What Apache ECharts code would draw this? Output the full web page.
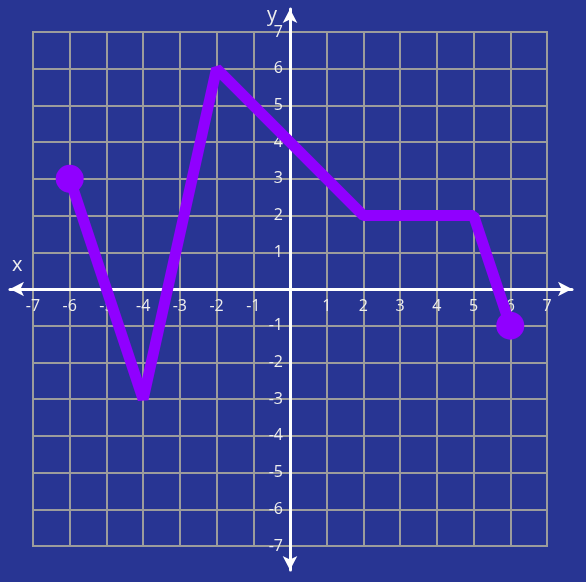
<!DOCTYPE html>
<html>
<head>
<meta charset="utf-8">
<script src="https://cdn.jsdelivr.net/npm/echarts@6/dist/echarts.min.js"></script>
<style>
html,body{margin:0;padding:0;background:#283593;}
#c{width:586px;height:582px;}
</style>
</head>
<body>
<div id="c"></div>
<script>
// Data
const xValues = [-6, -4, -2, 2, 5, 6];
const yValues = [3, -3, 6, 2, 2, -1];
const axisMin = -7;
const axisMax = 7;
const xAxisName = 'x';
const yAxisName = 'y';

const chart = echarts.init(document.getElementById('c'));
const W = 586, H = 582;
const g = {left: 33, right: 39, top: 32, bottom: 36};
const unitX = (W - g.left - g.right) / (axisMax - axisMin);
const unitY = (H - g.top - g.bottom) / (axisMax - axisMin);
// outer arrow-axis grid
const g2 = {left: 10, right: 14, top: 9, bottom: 12};
const zeroX = g.left + (0 - axisMin) * unitX;
const zeroY = g.top + (axisMax - 0) * unitY;
const x2min = -(zeroX - g2.left) / unitX;
const x2max = (W - g2.right - zeroX) / unitX;
const y2max = (zeroY - g2.top) / unitY;
const y2min = -(H - g2.bottom - zeroY) / unitY;
const xOffset = -((H - g.bottom) - zeroY);
const yOffset = -(zeroX - g.left);

const labelFont = {color: '#eeeeee', fontSize: 16, fontFamily: 'Open Sans'};
const gridLine = {show: true, lineStyle: {color: '#9c9c9c', width: 2}};

const option = {
  backgroundColor: '#283593',
  animation: false,
  grid: [
    Object.assign({show: true, borderColor: '#9c9c9c', borderWidth: 2, backgroundColor: 'transparent'}, g),
    Object.assign({show: false}, g2)
  ],
  xAxis: [
    {
      type: 'value', gridIndex: 0, min: axisMin, max: axisMax, interval: 1,
      position: 'bottom', offset: xOffset,
      splitLine: gridLine,
      axisTick: {show: false},
      axisLine: {show: false, onZero: false},
      axisLabel: Object.assign({margin: 9, showMinLabel: true, showMaxLabel: true,
        formatter: v => v === 0 ? '' : String(v)}, labelFont)
    },
    {
      type: 'value', gridIndex: 1, min: x2min, max: x2max,
      splitLine: {show: false}, axisTick: {show: false}, axisLabel: {show: false},
      axisLine: {show: true, onZero: true, symbol: ['arrow', 'arrow'], symbolSize: [11, 14],
        lineStyle: {color: '#ffffff', width: 3}}
    }
  ],
  yAxis: [
    {
      type: 'value', gridIndex: 0, min: axisMin, max: axisMax, interval: 1,
      position: 'left', offset: yOffset,
      splitLine: gridLine,
      axisTick: {show: false},
      axisLine: {show: false, onZero: false},
      axisLabel: Object.assign({margin: 7, padding: [5, 0, 0, 0], showMinLabel: true, showMaxLabel: true,
        formatter: v => v === 0 ? '' : String(v)}, labelFont)
    },
    {
      type: 'value', gridIndex: 1, min: y2min, max: y2max,
      splitLine: {show: false}, axisTick: {show: false}, axisLabel: {show: false},
      axisLine: {show: true, onZero: true, symbol: ['arrow', 'arrow'], symbolSize: [11, 14],
        lineStyle: {color: '#ffffff', width: 3}}
    }
  ],
  series: [{
    type: 'line',
    xAxisIndex: 0, yAxisIndex: 0,
    data: xValues.map((x, i) => [x, yValues[i]]),
    symbol: 'circle',
    showAllSymbol: true,
    symbolSize: (v, p) => (p.dataIndex === 0 || p.dataIndex === xValues.length - 1) ? 28 : 0,
    lineStyle: {color: '#9000ff', width: 11, join: 'bevel', cap: 'butt'},
    itemStyle: {color: '#9000ff'},
    clip: false,
    z: 5
  }],
  graphic: [
    {type: 'text', left: 12, top: 255, style: {text: xAxisName, fill: '#eeeeee', font: '20px "Open Sans"'}},
    {type: 'text', left: 267, top: 5, style: {text: yAxisName, fill: '#eeeeee', font: '20px "Open Sans"'}}
  ]
};
chart.setOption(option);
</script>
</body>
</html>
